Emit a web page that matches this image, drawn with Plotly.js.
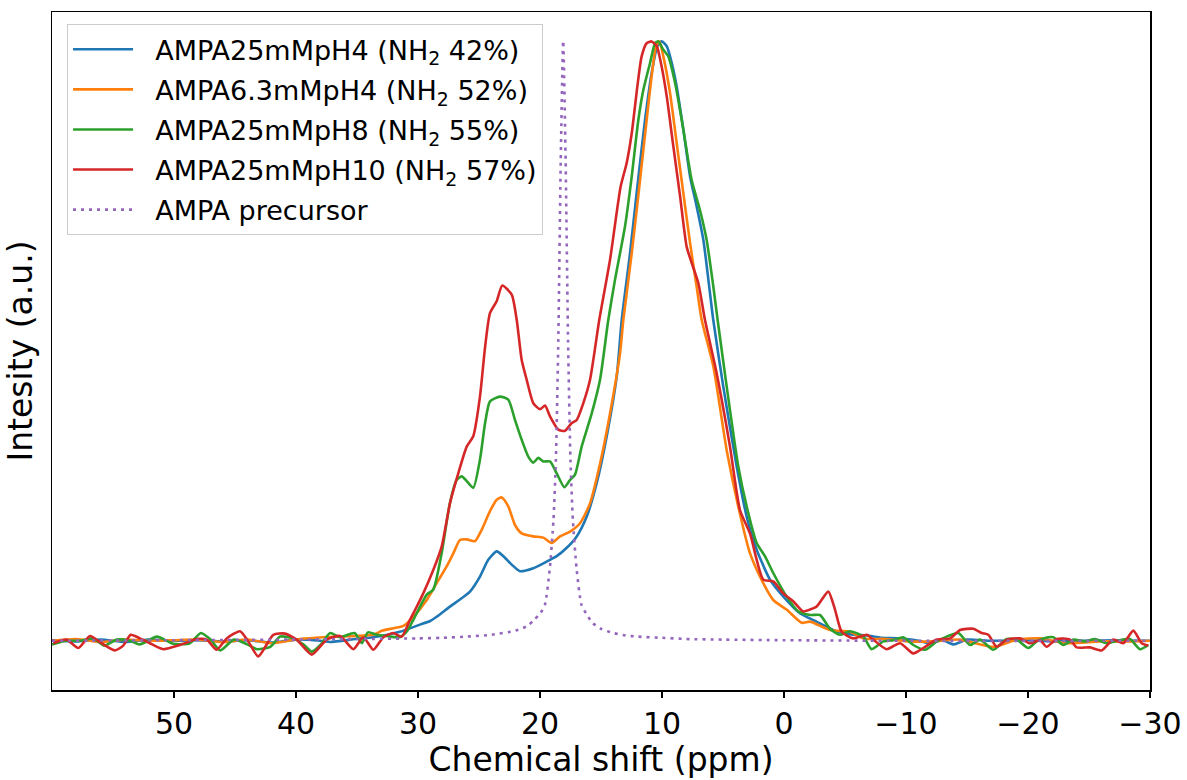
<!DOCTYPE html>
<html>
<head>
<meta charset="utf-8">
<script src="https://cdn.plot.ly/plotly-3.0.1.min.js"></script>
<style>html,body{margin:0;padding:0;background:#fff;}#chart{width:1187px;height:780px;}</style>
</head>
<body>
<div id="chart"></div>
<script>
// Chemical shift (ppm) and normalized intensity for each sample
const blueX = [60,58,56,54,52,50,48,46,44,42,40,38,37.2,35.1,33.7,32.5,31.5,30.5,29.84,29.0,28.47,27.38,26.42,25.74,24.92,24.24,23.55,23.0,22.32,21.64,20.55,19.45,18.63,17.81,16.99,16.17,15.35,14.53,13.71,13.3,12.62,12.02,11.39,10.85,10.38,10.03,9.61,9.2,8.8,8.25,7.7,7.16,6.61,6.07,5.8,4.98,3.88,3.06,2.24,1.15,0.07,-1.3,-2.66,-4.3,-5.7,-6.76,-8,-9.5,-11,-12,-13,-13.9,-15,-17,-20,-22,-25,-27,-30];
const blueY = [0.001,-0.001,0.002,-0.002,0.002,0.0,0.001,-0.001,0.001,-0.003,0.002,0.0,-0.002,0.003,0.006,0.010,0.015,0.022,0.027,0.033,0.040,0.057,0.071,0.082,0.107,0.135,0.149,0.141,0.127,0.116,0.121,0.132,0.141,0.155,0.174,0.207,0.263,0.341,0.441,0.535,0.646,0.757,0.868,0.946,0.991,0.999,0.991,0.963,0.924,0.852,0.774,0.724,0.668,0.580,0.535,0.424,0.291,0.207,0.152,0.102,0.074,0.046,0.032,0.016,0.010,0.009,0.005,0.004,0.0,-0.004,0.001,-0.006,0.002,0.0,0.001,-0.001,0.0,0.001,0.0];

const orangeX = [60,58,56,54,52,50,48,46,44,42,39.7,37.8,35.1,33.7,32.9,32.0,31.2,30.38,29.28,28.47,27.65,27.1,26.56,26.0,25.33,24.78,24.1,23.55,23.14,22.6,22.05,21.5,20.55,19.73,19.04,18.36,17.54,16.72,15.9,15.08,14.26,13.44,13.17,12.48,11.86,11.26,10.85,10.49,10.22,9.89,9.34,8.8,8.25,7.7,7.16,6.75,5.79,4.7,3.75,2.79,1.7,0.88,-0.21,-1.45,-2.13,-3.77,-5.41,-6.5,-8.4,-10.3,-12.2,-14.4,-17.2,-19.07,-21,-23.2,-25.9,-28.6,-30];
const orangeY = [0.0,0.003,-0.002,0.002,0.0,0.001,0.002,-0.002,0.002,-0.004,0.003,0.006,0.008,0.010,0.017,0.021,0.025,0.040,0.068,0.096,0.124,0.146,0.168,0.169,0.166,0.185,0.216,0.235,0.239,0.224,0.193,0.179,0.174,0.172,0.163,0.174,0.182,0.196,0.229,0.295,0.379,0.479,0.535,0.646,0.757,0.868,0.941,0.991,0.999,0.974,0.913,0.830,0.746,0.663,0.590,0.535,0.457,0.318,0.224,0.146,0.096,0.068,0.052,0.030,0.032,0.018,0.015,0.004,0.003,-0.001,-0.001,0.002,-0.010,0.002,0.004,-0.004,-0.001,-0.001,0.0];

const greenX = [60,58.8,57.7,56.6,55.7,54.7,53.6,52.8,51.4,50.05,48.7,47.8,47.0,46.2,45.1,44.0,43.2,42.1,41.3,40.2,39.4,38.7,38.0,37.2,36.4,35.2,34.6,34.1,33.4,32.6,31.5,30.9,30.38,29.28,28.75,28.06,27.38,26.83,26.42,26.0,25.47,24.92,24.5,24.1,23.28,22.6,22.05,21.5,20.96,20.55,20.14,19.73,19.18,18.63,18.0,17.54,17.13,16.58,15.76,15.08,14.4,13.85,13.03,12.48,11.94,11.53,10.98,10.57,10.3,9.89,9.48,8.93,8.25,7.57,6.89,6.34,5.79,5.44,4.7,3.75,3.06,2.24,1.56,0.88,-0.21,-1.17,-2.13,-2.95,-3.77,-4.59,-5.41,-6.5,-7.19,-8.14,-8.96,-9.78,-10.6,-11.56,-12.52,-13.34,-14.29,-15.25,-16.07,-17.16,-18.25,-19.07,-20.03,-20.71,-21.26,-22.08,-22.9,-23.72,-24.67,-25.49,-26.45,-27.54,-28.36,-29.18,-29.86];
const greenY = [-0.006,0.0,0.0,0.004,-0.008,0.002,0.0,-0.006,0.007,-0.005,-0.004,0.013,0.002,-0.016,0.002,-0.006,-0.014,-0.010,0.007,0.004,-0.006,-0.018,-0.007,0.013,0.006,0.013,-0.004,0.014,0.010,0.008,0.006,0.016,0.035,0.077,0.085,0.146,0.230,0.268,0.274,0.266,0.255,0.302,0.363,0.399,0.407,0.402,0.368,0.335,0.307,0.297,0.305,0.299,0.299,0.279,0.256,0.268,0.277,0.324,0.379,0.435,0.535,0.602,0.691,0.774,0.868,0.918,0.963,0.996,0.999,0.985,0.974,0.930,0.852,0.768,0.718,0.668,0.590,0.535,0.424,0.291,0.224,0.163,0.141,0.113,0.074,0.049,0.043,0.043,0.020,0.010,0.016,0.007,-0.014,-0.001,0.001,0.006,-0.007,-0.015,-0.001,0.007,0.013,-0.007,0.002,-0.015,0.003,0.002,-0.012,-0.001,0.004,0.006,-0.007,0.002,-0.001,0.003,-0.004,0.001,0.003,-0.014,-0.007];

const redX = [59.89,58.8,57.84,56.89,55.93,54.84,54.16,53.55,52.79,51.97,50.88,49.51,48.14,47.32,46.5,45.68,44.59,43.91,43.09,41.86,40.9,39.94,38.71,37.48,36.39,35.3,34.48,33.66,32.84,32.02,31.34,30.66,30.1,29.57,28.75,28.06,27.38,26.7,26.0,25.47,24.92,24.5,24.1,23.55,23.09,22.32,21.91,21.5,21.09,20.55,20.0,19.59,19.18,18.5,17.95,17.4,16.99,16.45,15.9,15.14,14.26,13.39,12.9,12.48,12.02,11.67,11.26,10.85,10.43,10.03,9.61,9.07,8.52,7.98,7.57,7.02,6.48,5.52,4.43,3.61,2.79,1.7,0.88,0.07,-0.75,-1.57,-2.13,-2.68,-3.63,-4.18,-4.73,-5.68,-6.78,-7.32,-8.41,-9.51,-10.6,-11.42,-12.52,-13.61,-14.43,-15.52,-16.2,-16.75,-17.43,-18.25,-19.34,-20.16,-20.98,-21.53,-22.35,-23.44,-23.99,-25.08,-26.04,-26.99,-27.81,-28.63,-29.32,-29.86];
const redY = [-0.004,0.002,-0.012,0.008,-0.004,-0.016,-0.008,0.010,0.004,-0.004,-0.014,-0.007,0.003,0.002,-0.015,0.004,0.016,-0.001,-0.026,0.010,0.012,0.002,-0.023,0.002,0.008,-0.014,0.006,-0.015,0.006,0.013,0.007,0.035,0.057,0.079,0.118,0.157,0.229,0.279,0.324,0.341,0.407,0.490,0.546,0.566,0.592,0.577,0.535,0.468,0.435,0.396,0.386,0.392,0.374,0.352,0.350,0.363,0.368,0.396,0.435,0.535,0.635,0.757,0.796,0.846,0.924,0.974,0.996,0.999,0.991,0.957,0.907,0.824,0.741,0.657,0.630,0.596,0.535,0.446,0.324,0.218,0.179,0.102,0.099,0.079,0.066,0.049,0.052,0.057,0.082,0.052,0.015,0.004,0.010,0.002,-0.014,-0.004,-0.021,-0.012,0.002,0.004,0.018,0.020,0.013,0.010,-0.010,0.002,0.004,-0.004,0.001,-0.010,0.003,0.002,-0.011,-0.011,-0.016,0.002,-0.004,0.017,-0.004,-0.008];

const purpleX = [60,50,40,35,30,28,26,24,22,21,20.5,20,19.6,19.2,18.9,18.7,18.5,18.3,18.1,17.9,17.7,17.5,17.3,17.0,16.6,16.2,15.7,15,14,13,12,10,8,5,0,-10,-30];
const purpleY = [0.0,0.001,0.002,0.003,0.004,0.005,0.007,0.010,0.017,0.025,0.035,0.045,0.060,0.120,0.200,0.300,0.500,0.800,1.000,0.800,0.500,0.300,0.200,0.120,0.060,0.045,0.030,0.020,0.013,0.009,0.007,0.005,0.003,0.002,0.001,0.0,0.0];

const names = ['AMPA25mMpH4 (NH<sub>2</sub> 42%)','AMPA6.3mMpH4 (NH<sub>2</sub> 52%)','AMPA25mMpH8 (NH<sub>2</sub> 55%)','AMPA25mMpH10 (NH<sub>2</sub> 57%)','AMPA precursor'];
const colors = ['#1f77b4','#ff7f0e','#2ca02c','#d62728','#9467bd'];
const xs = [blueX, orangeX, greenX, redX, purpleX];
const ys = [blueY, orangeY, greenY, redY, purpleY];
const xTicks = [50,40,30,20,10,0,-10,-20,-30];

const traces = xs.map((x,i)=>({
  x:x, y:ys[i], name:'\u00a0\u00a0' + names[i], legendgroup:'g'+i, type:'scatter', mode:'lines',
  line:{color:colors[i], width:2.6, dash: i===4 ? '3px,5px' : 'solid', shape:'spline', smoothing:0.6}
}));

const font = 'DejaVu Sans, sans-serif';
const layout = {
  width:1187, height:780,
  margin:{l:52, r:37, t:12, b:90},
  paper_bgcolor:'#fff', plot_bgcolor:'#fff',
  font:{family:font, color:'#000'},
  showlegend:true,
  legend:{x:0.0137, y:0.982, xanchor:'left', yanchor:'top', bgcolor:'rgba(255,255,255,0.8)', bordercolor:'#cccccc', borderwidth:1,
    itemwidth:60, tracegroupgap:2, font:{family:font, size:27, color:'#000'}},
  xaxis:{range:[60,-30], tickvals:xTicks, ticks:'outside', ticklen:6, tickwidth:1.5, tickcolor:'#000', automargin:false,
    showline:true, linecolor:'#000', linewidth:1.5, mirror:true, showgrid:false, zeroline:false,
    tickfont:{family:font, size:30, color:'#000'},
    title:{text:'Chemical shift (ppm)', font:{family:font, size:33, color:'#000'}, standoff:6}},
  yaxis:{range:[-0.082,1.048], showticklabels:false, ticks:'', showline:true, linecolor:'#000', linewidth:1.5, mirror:true, showgrid:false, zeroline:false, automargin:false,
    title:{text:'Intesity (a.u.)', font:{family:font, size:33, color:'#000'}, standoff:8}}
};
Plotly.newPlot('chart', traces, layout, {displayModeBar:false, staticPlot:true});
</script>
</body>
</html>
